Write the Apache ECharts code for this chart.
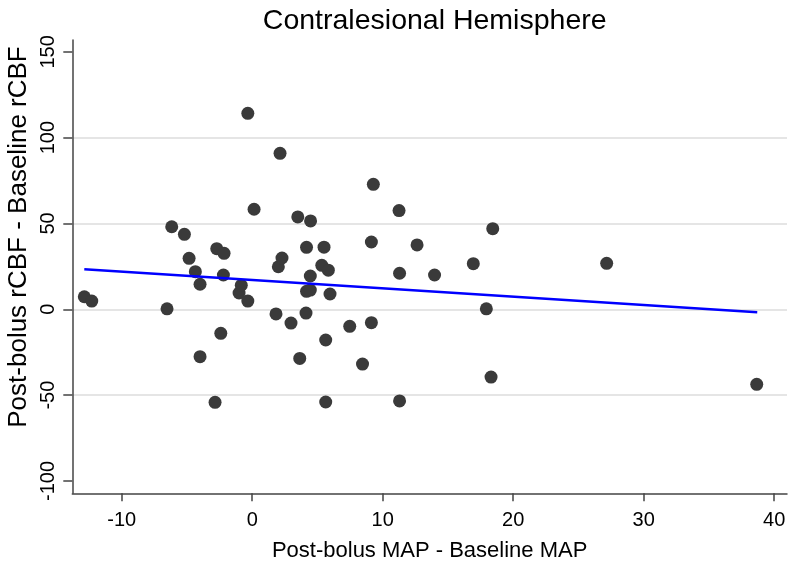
<!DOCTYPE html>
<html>
<head>
<meta charset="utf-8">
<script src="https://cdn.jsdelivr.net/npm/echarts@6/dist/echarts.min.js"></script>
<style>
html,body{margin:0;padding:0;background:#fff;}
#chart{width:800px;height:568px;}
</style>
</head>
<body>
<div id="chart"></div>
<script>
// Post-bolus MAP - Baseline MAP
var mapDiff = [-12.87, -12.30, -6.53, -6.17, -5.20, -4.84, -4.36, -4.00, -4.00, -2.85,
  -2.72, -2.41, -2.21, -2.16, -1.01, -0.84, -0.34, -0.34, 0.14, 1.82,
  2.00, 2.13, 2.28, 2.97, 3.49, 3.64, 4.16, 4.16, 4.12, 4.47,
  4.45, 4.45, 5.33, 5.50, 5.63, 5.63, 5.83, 5.96, 7.47, 8.45,
  9.13, 9.13, 9.28, 11.25, 11.29, 11.29, 12.63, 13.97, 16.94, 17.94,
  18.30, 18.43, 27.16, 38.66];
// Post-bolus rCBF - Baseline rCBF
var rcbfDiff = [7.3, 4.8, 0.3, 48.1, 43.7, 29.7, 21.9, 14.6, -27.6, -54.2,
  35.3, -14.0, 20.0, 32.6, 9.5, 14.0, 114.2, 4.8, 58.3, -2.7,
  24.8, 90.9, 29.9, -8.0, 53.8, -28.6, 36.1, 10.5, -2.2, 51.5,
  19.4, 11.2, 25.6, 36.2, -17.9, -54.0, 22.8, 8.9, -9.9, -31.9,
  39.2, -7.8, 72.8, 57.5, 21.0, -53.4, 37.5, 20.0, 26.6, 0.3,
  -39.5, 47.0, 26.8, -43.7];
// fitted line end points
var fitX = [-12.87, 38.70];
var fitY = [23.3, -1.75];
// ticks
var xTicks = [-10, 0, 10, 20, 30, 40];
var yTicks = [-100, -50, 0, 50, 100, 150];
var yGrid = [-50, 0, 50, 100];

var chart = echarts.init(document.getElementById('chart'), null, {renderer: 'canvas'});
var pts = mapDiff.map(function (x, i) { return [x, rcbfDiff[i]]; });
var fit = fitX.map(function (x, i) { return [x, fitY[i]]; });
var FONT = 'Liberation Sans, Arial, sans-serif';
var xMin = -13.79, xMax = 40.98, yMin = -107.2, yMax = 156.9;

chart.setOption({
  animation: false,
  backgroundColor: '#ffffff',
  title: {
    text: 'Contralesional Hemisphere',
    left: 429.7,
    textAlign: 'center',
    top: 2,
    textStyle: {fontFamily: FONT, fontSize: 28.5, fontWeight: 'normal', color: '#000'}
  },
  grid: {left: 72.3, right: 13, top: 40, bottom: 74.7, containLabel: false},
  xAxis: {
    type: 'value', min: xMin, max: xMax,
    name: 'Post-bolus MAP - Baseline MAP',
    nameLocation: 'middle', nameGap: 47,
    nameTextStyle: {fontFamily: FONT, fontSize: 22, color: '#000'},
    axisLine: {show: true, onZero: false, lineStyle: {color: '#444', width: 1.5}},
    axisTick: {show: true, length: 8, customValues: xTicks, lineStyle: {color: '#444', width: 1.5}},
    axisLabel: {customValues: xTicks, fontFamily: FONT, fontSize: 20, color: '#000', margin: 17},
    splitLine: {show: false}
  },
  yAxis: [{
    type: 'value', min: yMin, max: yMax, position: 'left',
    axisLine: {show: true, onZero: false, lineStyle: {color: '#444', width: 1.5}},
    axisTick: {show: true, length: 9, customValues: yTicks, lineStyle: {color: '#444', width: 1.5}},
    axisLabel: {customValues: yTicks, rotate: 90, fontFamily: FONT, fontSize: 20, color: '#000', margin: 14},
    splitLine: {show: false}
  }, {
    type: 'value', min: yMin, max: yMax, position: 'left', offset: 0,
    axisLine: {show: false},
    axisTick: {show: false, customValues: yGrid},
    axisLabel: {show: false, customValues: yGrid},
    splitLine: {show: true, lineStyle: {color: '#dcdcdc', width: 1.5}}
  }],
  graphic: [{
    type: 'text',
    x: 19, y: 237,
    rotation: Math.PI / 2,
    style: {
      text: 'Post-bolus rCBF - Baseline rCBF',
      font: '26px Liberation Sans, Arial, sans-serif',
      fill: '#000',
      textAlign: 'center',
      textVerticalAlign: 'middle'
    }
  }],
  series: [{
    type: 'scatter',
    data: pts,
    symbol: 'circle',
    symbolSize: 13,
    itemStyle: {color: '#3a3a3a', opacity: 1},
    z: 3
  }, {
    type: 'line',
    data: fit,
    showSymbol: false,
    symbol: 'none',
    lineStyle: {color: '#0000ff', width: 2.5},
    z: 4
  }]
});
</script>
</body>
</html>
